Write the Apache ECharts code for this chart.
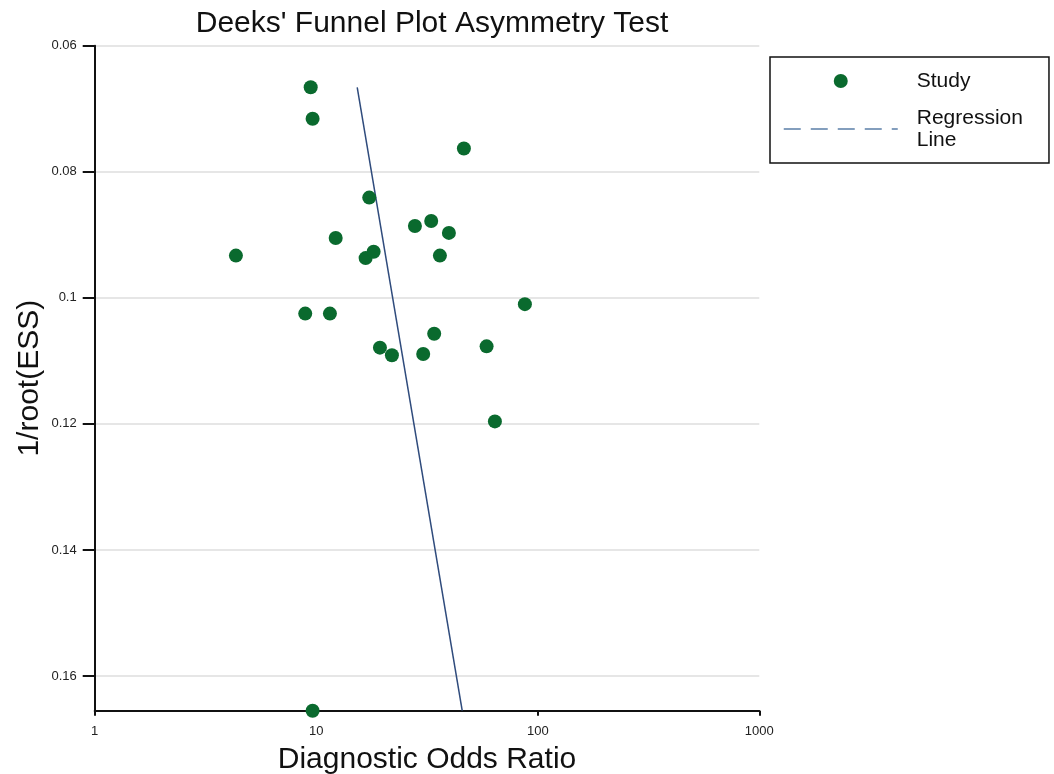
<!DOCTYPE html>
<html>
<head>
<meta charset="utf-8">
<title>Deeks' Funnel Plot Asymmetry Test</title>
<script src="https://cdn.jsdelivr.net/npm/echarts@6/dist/echarts.min.js"></script>
<style>
  html, body { margin: 0; padding: 0; background: #fff; overflow: hidden; }
  #chart { width: 1054px; height: 774px; }
</style>
</head>
<body>
<div id="chart"></div>
<script>
// Study points: diagnostic odds ratio (x, log scale) and 1/root(ESS) (y)
const studyDOR = [9.44, 9.63, 46.4, 17.35, 12.24, 4.34, 16.71, 18.16, 27.89, 33.04, 39.71,
                  36.16, 87.46, 8.92, 11.53, 34.08, 19.39, 21.96, 30.4, 58.75, 64.05, 9.63];
const studyESS = [0.0666, 0.0716, 0.0763, 0.0841, 0.0905, 0.0933, 0.0937, 0.0927, 0.0886, 0.0878, 0.0897,
                  0.0933, 0.1010, 0.1025, 0.1025, 0.1057, 0.1079, 0.1091, 0.1089, 0.1077, 0.1196, 0.1655];

// Regression line endpoints
const lineDOR = [15.31, 45.6];
const lineESS = [0.0666, 0.1655];

// Axis ticks
const xTicks = [1, 10, 100, 1000];
const yTicks = [0.06, 0.08, 0.1, 0.12, 0.14, 0.16];
const yMin = 0.06, yMax = 0.1655;

const FONT = '"Liberation Sans", Arial, sans-serif';

const chart = echarts.init(document.getElementById('chart'), null, { renderer: 'canvas', width: 1054, height: 774 });

chart.setOption({
  backgroundColor: '#ffffff',
  animation: false,
  textStyle: { fontFamily: FONT },
  title: {
    text: "Deeks' Funnel Plot Asymmetry Test",
    left: 427, top: 4, textAlign: 'center',
    textStyle: { fontFamily: FONT, fontSize: 30, fontWeight: 'normal', color: '#111' }
  },
  grid: {
    left: 94.7, top: 45.7, width: 664.6, height: 665,
    containLabel: false, outerBoundsMode: 'none'
  },
  legend: {
    orient: 'vertical',
    left: 770, top: 57,
    padding: [13, 26, 12, 13],
    itemGap: 15,
    itemWidth: 114, itemHeight: 14,
    borderColor: '#111', borderWidth: 1.5, borderRadius: 0,
    textStyle: { fontFamily: FONT, fontSize: 21, color: '#111', lineHeight: 22, padding: [0, 0, 0, 14] },
    formatter: function (name) { return name === 'Regression Line' ? 'Regression\nLine' : name; },
    data: [
      { name: 'Study', icon: 'circle', itemStyle: { color: '#0a6a2e', opacity: 1 } },
      {
        name: 'Regression Line',
        itemStyle: { opacity: 0 },
        lineStyle: { type: [17, 10], color: '#5b7fa8', width: 1.5 }
      }
    ]
  },
  xAxis: {
    type: 'log', logBase: 10, min: xTicks[0], max: xTicks[xTicks.length - 1],
    position: 'bottom',
    axisLine: { onZero: false, lineStyle: { color: '#111', width: 2 } },
    axisTick: { show: true, length: 5, lineStyle: { color: '#111', width: 2 } },
    minorTick: { show: false },
    splitLine: { show: false },
    axisLabel: {
      fontFamily: FONT, fontSize: 13, color: '#222', margin: 14,
      formatter: function (v) { return String(Math.round(v)); }
    },
    name: 'Diagnostic Odds Ratio',
    nameLocation: 'middle', nameGap: 34, nameMoveOverlap: false,
    nameTextStyle: { fontFamily: FONT, fontSize: 30, color: '#111' }
  },
  yAxis: {
    type: 'value', inverse: true, min: yMin, max: yMax, interval: 0.02,
    axisLine: { show: true, onZero: false, lineStyle: { color: '#111', width: 2 } },
    axisTick: { show: true, length: 12, customValues: yTicks, lineStyle: { color: '#111', width: 2 } },
    splitLine: { show: true, lineStyle: { color: '#e6e6e6', width: 2 } },
    axisLabel: {
      fontFamily: FONT, fontSize: 13, color: '#222', margin: 18,
      customValues: yTicks,
      formatter: function (v) { return String(Math.round(v * 100) / 100); }
    },
    name: '1/root(ESS)',
    nameLocation: 'middle', nameGap: 50, nameRotate: 90, nameMoveOverlap: false,
    nameTextStyle: { fontFamily: FONT, fontSize: 30, color: '#111' }
  },
  series: [
    {
      name: 'Study', type: 'scatter',
      symbol: 'circle', symbolSize: 14, clip: false,
      itemStyle: { color: '#0a6a2e', opacity: 1 },
      data: studyDOR.map((x, i) => [x, studyESS[i]]),
      z: 3
    },
    {
      name: 'Regression Line', type: 'line',
      symbol: 'none', showSymbol: false,
      lineStyle: { color: '#2f4b7c', width: 1.5 },
      data: lineDOR.map((x, i) => [x, lineESS[i]]),
      z: 2
    }
  ]
});
</script>
</body>
</html>
